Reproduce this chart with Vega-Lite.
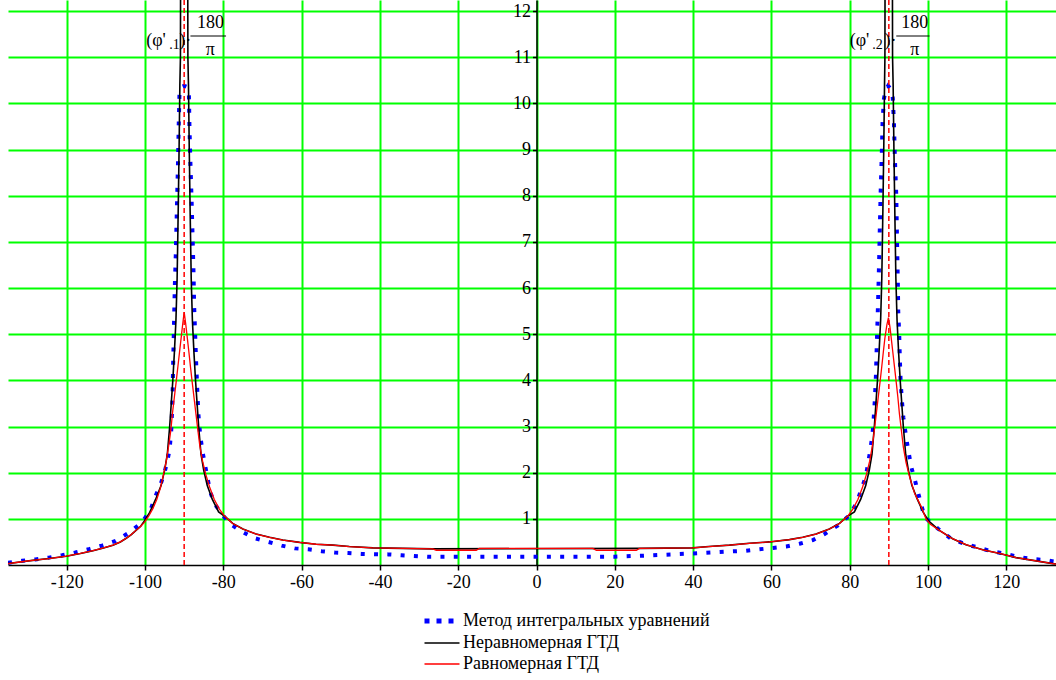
{
  "$schema": "https://vega.github.io/schema/vega-lite/v6.json",
  "width": 1048,
  "height": 565,
  "autosize": {"type": "none"},
  "padding": {"left": 8, "top": 0, "right": 0, "bottom": 115},
  "background": "white",
  "config": {"view": {"stroke": null}, "font": "Times New Roman, Liberation Serif, serif"},
  "datasets": {
    "blue": [
      {"x": -135.0, "y": 0.05}, {"x": -131.4, "y": 0.09}, {"x": -128.0, "y": 0.12}, {"x": -124.6, "y": 0.16},
      {"x": -121.2, "y": 0.21}, {"x": -117.8, "y": 0.27}, {"x": -114.4, "y": 0.34}, {"x": -111.0, "y": 0.42},
      {"x": -107.5, "y": 0.52}, {"x": -104.1, "y": 0.70}, {"x": -100.7, "y": 0.93}, {"x": -98.6, "y": 1.19},
      {"x": -97.4, "y": 1.48}, {"x": -96.0, "y": 1.75}, {"x": -95.0, "y": 2.01}, {"x": -94.4, "y": 2.22},
      {"x": -93.9, "y": 2.42}, {"x": -93.6, "y": 2.62}, {"x": -93.3, "y": 2.92}, {"x": -93.1, "y": 3.30},
      {"x": -92.95, "y": 3.70}, {"x": -92.85, "y": 4.20}, {"x": -92.7, "y": 4.80}, {"x": -92.55, "y": 5.40},
      {"x": -92.4, "y": 6.00}, {"x": -92.15, "y": 6.70}, {"x": -91.95, "y": 7.40}, {"x": -91.75, "y": 8.10},
      {"x": -91.55, "y": 8.80}, {"x": -91.4, "y": 9.50}, {"x": -91.2, "y": 10.20}, {"x": -90.6, "y": 10.36},
      {"x": -90.0, "y": 10.38}, {"x": -89.4, "y": 10.36}, {"x": -88.8, "y": 10.25}, {"x": -88.65, "y": 9.50},
      {"x": -88.4, "y": 8.70}, {"x": -88.1, "y": 7.90}, {"x": -87.85, "y": 7.10}, {"x": -87.6, "y": 6.30},
      {"x": -87.45, "y": 5.60}, {"x": -87.2, "y": 5.00}, {"x": -86.95, "y": 4.40}, {"x": -86.7, "y": 3.90},
      {"x": -86.4, "y": 3.30}, {"x": -85.9, "y": 2.80}, {"x": -85.2, "y": 2.40}, {"x": -84.3, "y": 2.00},
      {"x": -83.4, "y": 1.60}, {"x": -82.3, "y": 1.33}, {"x": -81.0, "y": 1.18}, {"x": -78.7, "y": 0.92},
      {"x": -75.4, "y": 0.73}, {"x": -72.0, "y": 0.58}, {"x": -68.5, "y": 0.50}, {"x": -65.1, "y": 0.42},
      {"x": -61.7, "y": 0.36}, {"x": -58.3, "y": 0.34}, {"x": -54.9, "y": 0.30}, {"x": -51.5, "y": 0.27},
      {"x": -48.1, "y": 0.26}, {"x": -44.7, "y": 0.24}, {"x": -37.9, "y": 0.23}, {"x": -34.5, "y": 0.21},
      {"x": -27.7, "y": 0.18}, {"x": 0, "y": 0.18}, {"x": 20, "y": 0.18}, {"x": 29.7, "y": 0.21},
      {"x": 39.9, "y": 0.25}, {"x": 46.7, "y": 0.28}, {"x": 53.5, "y": 0.31}, {"x": 56.9, "y": 0.34},
      {"x": 60.4, "y": 0.37}, {"x": 63.8, "y": 0.40}, {"x": 67.2, "y": 0.46}, {"x": 70.6, "y": 0.54},
      {"x": 73.6, "y": 0.67}, {"x": 77.0, "y": 0.86}, {"x": 80.0, "y": 1.08}, {"x": 81.8, "y": 1.35},
      {"x": 82.9, "y": 1.62}, {"x": 84.1, "y": 1.91}, {"x": 84.7, "y": 2.20}, {"x": 85.2, "y": 2.46},
      {"x": 85.7, "y": 2.75}, {"x": 86.0, "y": 3.00}, {"x": 86.4, "y": 3.54}, {"x": 86.7, "y": 4.10},
      {"x": 86.9, "y": 4.70}, {"x": 87.15, "y": 5.40}, {"x": 87.35, "y": 6.00}, {"x": 87.55, "y": 6.70},
      {"x": 87.75, "y": 7.50}, {"x": 87.95, "y": 8.20}, {"x": 88.2, "y": 8.90}, {"x": 88.4, "y": 9.60},
      {"x": 88.75, "y": 10.10}, {"x": 89.2, "y": 10.30}, {"x": 89.8, "y": 10.38}, {"x": 90.4, "y": 10.32},
      {"x": 91.0, "y": 10.12}, {"x": 91.3, "y": 9.60}, {"x": 91.55, "y": 8.80}, {"x": 91.9, "y": 8.00},
      {"x": 92.1, "y": 7.00}, {"x": 92.3, "y": 6.10}, {"x": 92.4, "y": 5.50}, {"x": 92.65, "y": 5.00},
      {"x": 92.8, "y": 4.50}, {"x": 93.0, "y": 4.00}, {"x": 93.3, "y": 3.60}, {"x": 93.7, "y": 3.20},
      {"x": 94.2, "y": 2.90}, {"x": 94.6, "y": 2.67}, {"x": 95.1, "y": 2.42}, {"x": 95.7, "y": 2.13},
      {"x": 96.6, "y": 1.86}, {"x": 97.4, "y": 1.59}, {"x": 98.3, "y": 1.30}, {"x": 99.1, "y": 1.04},
      {"x": 102.5, "y": 0.79}, {"x": 105.9, "y": 0.57}, {"x": 109.3, "y": 0.46}, {"x": 112.7, "y": 0.38},
      {"x": 116.1, "y": 0.30}, {"x": 119.5, "y": 0.25}, {"x": 122.9, "y": 0.18}, {"x": 126.4, "y": 0.13},
      {"x": 129.8, "y": 0.11}, {"x": 132.7, "y": 0.07}
    ],
    "black": [
      {"x": -135, "y": 0.03}, {"x": -131.5, "y": 0.07}, {"x": -128.7, "y": 0.10}, {"x": -124.5, "y": 0.14},
      {"x": -120.1, "y": 0.19}, {"x": -116.5, "y": 0.25}, {"x": -113.3, "y": 0.31}, {"x": -110.6, "y": 0.37},
      {"x": -108.2, "y": 0.43}, {"x": -106.3, "y": 0.50}, {"x": -104.8, "y": 0.58}, {"x": -103.5, "y": 0.66},
      {"x": -102.3, "y": 0.75}, {"x": -101.1, "y": 0.84}, {"x": -100.2, "y": 0.95}, {"x": -98.8, "y": 1.14},
      {"x": -97.3, "y": 1.42}, {"x": -95.9, "y": 1.72}, {"x": -95.0, "y": 2.05}, {"x": -94.3, "y": 2.40},
      {"x": -93.7, "y": 3.00}, {"x": -93.3, "y": 3.50}, {"x": -92.9, "y": 4.00}, {"x": -92.5, "y": 4.60},
      {"x": -92.1, "y": 5.30}, {"x": -91.8, "y": 6.20}, {"x": -91.5, "y": 7.80}, {"x": -91.3, "y": 9.00},
      {"x": -91.1, "y": 10.40}, {"x": -90.95, "y": 11.00}, {"x": -90.9, "y": 13.50}, {"x": -90.6, "y": 15.00},
      {"x": -90.0, "y": 16.00}, {"x": -89.4, "y": 15.00}, {"x": -89.1, "y": 13.50}, {"x": -89.05, "y": 11.00},
      {"x": -88.9, "y": 10.40}, {"x": -88.7, "y": 9.00}, {"x": -88.5, "y": 7.80}, {"x": -88.2, "y": 6.20},
      {"x": -87.9, "y": 5.30}, {"x": -87.5, "y": 4.60}, {"x": -87.1, "y": 4.00}, {"x": -86.7, "y": 3.50},
      {"x": -86.3, "y": 3.00}, {"x": -85.7, "y": 2.40}, {"x": -85.0, "y": 2.05}, {"x": -84.1, "y": 1.72},
      {"x": -82.8, "y": 1.42}, {"x": -81.2, "y": 1.15}, {"x": -79.7, "y": 1.06}, {"x": -77.6, "y": 0.90},
      {"x": -75.0, "y": 0.78}, {"x": -71.6, "y": 0.67}, {"x": -68.2, "y": 0.60}, {"x": -64.8, "y": 0.54},
      {"x": -60.5, "y": 0.49}, {"x": -56.3, "y": 0.45}, {"x": -52.0, "y": 0.43}, {"x": -47.8, "y": 0.40},
      {"x": -41.8, "y": 0.37}, {"x": -26.5, "y": 0.35}, {"x": 26.3, "y": 0.36}, {"x": 39.9, "y": 0.37},
      {"x": 44.0, "y": 0.40}, {"x": 49.3, "y": 0.43}, {"x": 54.4, "y": 0.47}, {"x": 59.5, "y": 0.50},
      {"x": 64.6, "y": 0.55}, {"x": 68.0, "y": 0.60}, {"x": 71.4, "y": 0.67}, {"x": 74.8, "y": 0.78},
      {"x": 77.4, "y": 0.90}, {"x": 79.5, "y": 1.06}, {"x": 81.2, "y": 1.15}, {"x": 82.8, "y": 1.42},
      {"x": 84.1, "y": 1.72}, {"x": 85.0, "y": 2.05}, {"x": 85.7, "y": 2.40}, {"x": 86.3, "y": 3.00},
      {"x": 86.7, "y": 3.50}, {"x": 87.1, "y": 4.00}, {"x": 87.5, "y": 4.60}, {"x": 87.9, "y": 5.30},
      {"x": 88.2, "y": 6.20}, {"x": 88.5, "y": 7.80}, {"x": 88.7, "y": 9.00}, {"x": 88.9, "y": 10.40},
      {"x": 89.0, "y": 11.00}, {"x": 89.05, "y": 13.50}, {"x": 89.4, "y": 15.00}, {"x": 90.0, "y": 16.00},
      {"x": 90.6, "y": 15.00}, {"x": 90.9, "y": 13.50}, {"x": 90.95, "y": 11.00}, {"x": 91.1, "y": 10.40},
      {"x": 91.3, "y": 9.00}, {"x": 91.5, "y": 7.80}, {"x": 91.8, "y": 6.20}, {"x": 92.1, "y": 5.30},
      {"x": 92.5, "y": 4.60}, {"x": 92.9, "y": 4.00}, {"x": 93.3, "y": 3.50}, {"x": 93.7, "y": 3.00},
      {"x": 94.3, "y": 2.40}, {"x": 95.0, "y": 2.05}, {"x": 95.9, "y": 1.72}, {"x": 97.3, "y": 1.42},
      {"x": 98.8, "y": 1.14}, {"x": 100.2, "y": 0.95}, {"x": 102.9, "y": 0.75}, {"x": 106.3, "y": 0.57},
      {"x": 109.7, "y": 0.44}, {"x": 114.0, "y": 0.33}, {"x": 118.3, "y": 0.25}, {"x": 122.5, "y": 0.16},
      {"x": 126.8, "y": 0.10}, {"x": 131.9, "y": 0.03}, {"x": 132.7, "y": 0.02}
    ],
    "red": [
      {"x": -135, "y": 0.03}, {"x": -131.5, "y": 0.07}, {"x": -128.7, "y": 0.10}, {"x": -124.5, "y": 0.14},
      {"x": -120.1, "y": 0.19}, {"x": -116.5, "y": 0.25}, {"x": -113.3, "y": 0.31}, {"x": -110.6, "y": 0.37},
      {"x": -108.2, "y": 0.43}, {"x": -106.3, "y": 0.50}, {"x": -104.8, "y": 0.58}, {"x": -103.5, "y": 0.66},
      {"x": -102.3, "y": 0.75}, {"x": -101.1, "y": 0.84}, {"x": -100.1, "y": 0.93}, {"x": -99.0, "y": 1.07},
      {"x": -98.0, "y": 1.22}, {"x": -97.0, "y": 1.42}, {"x": -96.1, "y": 1.66}, {"x": -95.3, "y": 1.95},
      {"x": -94.6, "y": 2.24}, {"x": -94.0, "y": 2.56}, {"x": -93.4, "y": 2.92}, {"x": -93.0, "y": 3.28},
      {"x": -92.5, "y": 3.64}, {"x": -92.0, "y": 4.00}, {"x": -91.6, "y": 4.30}, {"x": -91.2, "y": 4.60},
      {"x": -90.8, "y": 4.90}, {"x": -90.4, "y": 5.20}, {"x": -90.0, "y": 5.48}, {"x": -89.6, "y": 5.22},
      {"x": -89.2, "y": 4.92}, {"x": -88.8, "y": 4.62}, {"x": -88.4, "y": 4.30}, {"x": -88.0, "y": 4.00},
      {"x": -87.5, "y": 3.64}, {"x": -87.0, "y": 3.28}, {"x": -86.5, "y": 2.92}, {"x": -86.0, "y": 2.58},
      {"x": -85.3, "y": 2.25}, {"x": -84.5, "y": 1.97}, {"x": -83.5, "y": 1.69}, {"x": -82.3, "y": 1.42},
      {"x": -81.0, "y": 1.21}, {"x": -79.7, "y": 1.06}, {"x": -77.6, "y": 0.90}, {"x": -75.0, "y": 0.78},
      {"x": -71.6, "y": 0.67}, {"x": -68.2, "y": 0.60}, {"x": -64.8, "y": 0.54}, {"x": -60.5, "y": 0.49},
      {"x": -56.3, "y": 0.45}, {"x": -52.0, "y": 0.43}, {"x": -47.8, "y": 0.40}, {"x": -41.8, "y": 0.37},
      {"x": -26.5, "y": 0.35}, {"x": -25.6, "y": 0.32}, {"x": -15.4, "y": 0.32}, {"x": -14.6, "y": 0.36},
      {"x": 14.4, "y": 0.36}, {"x": 15.3, "y": 0.32}, {"x": 25.5, "y": 0.32}, {"x": 26.3, "y": 0.36},
      {"x": 39.9, "y": 0.37}, {"x": 44.0, "y": 0.40}, {"x": 49.3, "y": 0.43}, {"x": 54.4, "y": 0.47},
      {"x": 59.5, "y": 0.50}, {"x": 64.6, "y": 0.55}, {"x": 68.0, "y": 0.60}, {"x": 71.4, "y": 0.67},
      {"x": 74.8, "y": 0.78}, {"x": 77.4, "y": 0.90}, {"x": 79.5, "y": 1.06}, {"x": 80.8, "y": 1.21},
      {"x": 82.1, "y": 1.42}, {"x": 83.3, "y": 1.69}, {"x": 84.3, "y": 1.97}, {"x": 85.1, "y": 2.25},
      {"x": 85.8, "y": 2.58}, {"x": 86.3, "y": 2.92}, {"x": 86.8, "y": 3.28}, {"x": 87.3, "y": 3.64},
      {"x": 87.8, "y": 4.00}, {"x": 88.2, "y": 4.30}, {"x": 88.6, "y": 4.62}, {"x": 89.0, "y": 4.92},
      {"x": 89.5, "y": 5.20}, {"x": 89.9, "y": 5.36}, {"x": 90.3, "y": 5.15}, {"x": 90.7, "y": 4.85},
      {"x": 91.1, "y": 4.55}, {"x": 91.5, "y": 4.25}, {"x": 91.9, "y": 3.95}, {"x": 92.3, "y": 3.64},
      {"x": 92.7, "y": 3.28}, {"x": 93.2, "y": 2.92}, {"x": 93.7, "y": 2.56}, {"x": 94.4, "y": 2.22},
      {"x": 95.3, "y": 1.91}, {"x": 96.6, "y": 1.55}, {"x": 98.3, "y": 1.26}, {"x": 99.5, "y": 1.00},
      {"x": 100.6, "y": 0.88}, {"x": 102.9, "y": 0.75}, {"x": 106.3, "y": 0.57}, {"x": 109.7, "y": 0.44},
      {"x": 114.0, "y": 0.33}, {"x": 118.3, "y": 0.25}, {"x": 122.5, "y": 0.16}, {"x": 126.8, "y": 0.10},
      {"x": 131.9, "y": 0.03}, {"x": 132.7, "y": 0.02}
    ],
    "markers": [{"x": -90}, {"x": 90}],
    "annBig": [
      {"x": -97.2, "y": 11.25, "t": "(φ'"}, {"x": -89.7, "y": 11.25, "t": ")·"},
      {"x": -83.3, "y": 11.63, "t": "180"}, {"x": -83.3, "y": 11.05, "t": "π"},
      {"x": 82.5, "y": 11.25, "t": "(φ'"}, {"x": 90.4, "y": 11.25, "t": ")·"},
      {"x": 96.6, "y": 11.63, "t": "180"}, {"x": 96.6, "y": 11.05, "t": "π"}
    ],
    "annSub": [
      {"x": -92.5, "y": 11.18, "t": ".1"}, {"x": 87.1, "y": 11.18, "t": ".2"}
    ],
    "fracs": [
      {"x": -88.4, "x2": -79.3, "y": 11.46}, {"x": 91.9, "x2": 100.4, "y": 11.46}
    ]
  },
  "layer": [
    {
      "data": {"name": "blue"},
      "mark": {"type": "line", "clip": true, "strokeWidth": 4, "strokeDash": [4, 9.3], "strokeCap": "butt"},
      "encoding": {
        "x": {
          "field": "x", "type": "quantitative",
          "scale": {"domain": [-135, 132.7], "nice": false, "zero": false},
          "axis": {
            "title": null, "values": [-120, -100, -80, -60, -40, -20, 0, 20, 40, 60, 80, 100, 120],
            "grid": true, "gridColor": "#00ff00", "gridWidth": 2, "gridOpacity": 1,
            "domainColor": "#000000", "domainWidth": 1.5, "tickColor": "#000000", "tickWidth": 1.5, "tickSize": 5,
            "labelFont": "Times New Roman, Liberation Serif, serif", "labelFontSize": 18, "labelColor": "#000000", "labelPadding": 3,
            "labelExpr": "'' + datum.value", "labelFlush": false, "labelOverlap": false
          }
        },
        "y": {
          "field": "y", "type": "quantitative",
          "scale": {"domain": [0, 12.24], "nice": false, "zero": true},
          "axis": {
            "title": null, "values": [1, 2, 3, 4, 5, 6, 7, 8, 9, 10, 11, 12],
            "offset": -528.5,
            "grid": true, "gridColor": "#00ff00", "gridWidth": 2, "gridOpacity": 1,
            "domainColor": "#000000", "domainWidth": 1.5, "tickColor": "#000000", "tickWidth": 1.5, "tickSize": 4,
            "labelFont": "Times New Roman, Liberation Serif, serif", "labelFontSize": 18, "labelColor": "#000000", "labelPadding": 2,
            "labelFlush": false, "labelOverlap": false
          }
        },
        "color": {
          "datum": "Метод интегральных уравнений",
          "scale": {"domain": ["Метод интегральных уравнений", "Неравномерная ГТД", "Равномерная ГТД"], "range": ["#0000ff", "#000000", "#ff0000"]},
          "legend": {
            "orient": "none", "legendX": 425, "legendY": 612, "title": null, "padding": 0,
            "symbolType": "stroke", "symbolSize": 1225, "symbolStrokeWidth": 1.5,
            "labelFont": "Times New Roman, Liberation Serif, serif", "labelFontSize": 18, "labelColor": "#000000", "labelOffset": 12,
            "rowPadding": 3, "labelLimit": 400,
            "encode": {"symbols": {"update": {
              "strokeDash": {"signal": "datum.value == 'Метод интегральных уравнений' ? [5, 7] : [1, 0]"},
              "strokeWidth": {"signal": "datum.value == 'Метод интегральных уравнений' ? 5 : 1.5"}
            }}}
          }
        }
      }
    },
    {
      "data": {"name": "black"},
      "mark": {"type": "line", "clip": true, "strokeWidth": 1.6},
      "encoding": {
        "x": {"field": "x", "type": "quantitative"},
        "y": {"field": "y", "type": "quantitative"},
        "color": {"datum": "Неравномерная ГТД"}
      }
    },
    {
      "data": {"name": "red"},
      "mark": {"type": "line", "clip": true, "strokeWidth": 1.3},
      "encoding": {
        "x": {"field": "x", "type": "quantitative"},
        "y": {"field": "y", "type": "quantitative"},
        "color": {"datum": "Равномерная ГТД"}
      }
    },
    {
      "data": {"name": "markers"},
      "mark": {"type": "rule", "color": "#ff0000", "strokeWidth": 1.5, "strokeDash": [5, 3]},
      "encoding": {
        "x": {"field": "x", "type": "quantitative"}
      }
    },
    {
      "data": {"name": "fracs"},
      "mark": {"type": "rule", "color": "#000000", "strokeWidth": 1},
      "encoding": {
        "x": {"field": "x", "type": "quantitative"},
        "x2": {"field": "x2"},
        "y": {"field": "y", "type": "quantitative"}
      }
    },
    {
      "data": {"name": "annBig"},
      "mark": {"type": "text", "font": "Times New Roman, Liberation Serif, serif", "fontSize": 18, "align": "center", "baseline": "alphabetic", "color": "#000000"},
      "encoding": {
        "x": {"field": "x", "type": "quantitative"},
        "y": {"field": "y", "type": "quantitative"},
        "text": {"field": "t"}
      }
    },
    {
      "data": {"name": "annSub"},
      "mark": {"type": "text", "font": "Times New Roman, Liberation Serif, serif", "fontSize": 14, "align": "center", "baseline": "alphabetic", "color": "#000000"},
      "encoding": {
        "x": {"field": "x", "type": "quantitative"},
        "y": {"field": "y", "type": "quantitative"},
        "text": {"field": "t"}
      }
    }
  ]
}
